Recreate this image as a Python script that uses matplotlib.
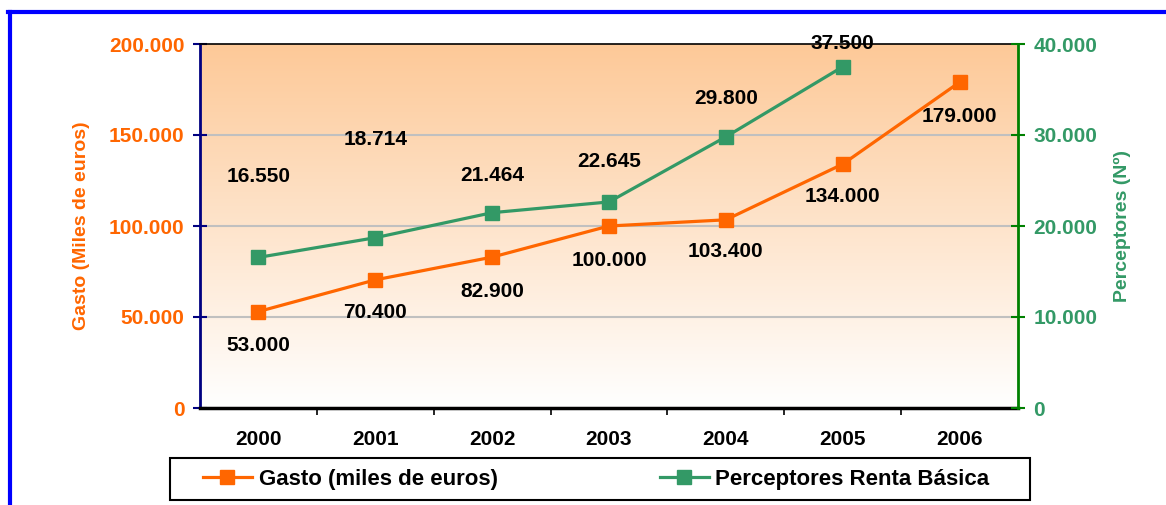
import numpy as np
import matplotlib
matplotlib.use('Agg')
import matplotlib.pyplot as plt
from matplotlib.lines import Line2D
from matplotlib.patches import Rectangle

# Data
years = ['2000', '2001', '2002', '2003', '2004', '2005', '2006']
gasto = [53000, 70400, 82900, 100000, 103400, 134000, 179000]
perceptores = [16550, 18714, 21464, 22645, 29800, 37500]
gasto_labels = ['53.000', '70.400', '82.900', '100.000', '103.400', '134.000', '179.000']
perc_labels = ['16.550', '18.714', '21.464', '22.645', '29.800', '37.500']
left_ticks = [0, 50000, 100000, 150000, 200000]
left_ticklabels = ['0', '50.000', '100.000', '150.000', '200.000']
right_ticks = [0, 10000, 20000, 30000, 40000]
right_ticklabels = ['0', '10.000', '20.000', '30.000', '40.000']

# label offsets in pixels (dy, positive = down)
gasto_dy = [34, 33, 34, 34, 32, 32, 34]
perc_dy = [-81, -98, -37, -40, -38, -23]

ORANGE = '#FF6600'
GREEN = '#339966'
NAVY = '#000080'
plt.rcParams['font.family'] = ['Liberation Sans', 'DejaVu Sans']
plt.rcParams['font.weight'] = 'bold'

W, H = 1166, 505
fig = plt.figure(figsize=(W / 100, H / 100), dpi=100)
ax = fig.add_axes([200 / W, 1 - 408 / H, 818 / W, 364 / H])
x = np.arange(len(years))

# gradient background (orange at top fading to white)
grad = np.linspace(0, 1, 256).reshape(-1, 1)
top = np.array([0xFD, 0xC9, 0x98]) / 255
bot = np.array([0xFF, 0xFF, 0xFF]) / 255
img = top[None, None, :] * (1 - grad[:, :, None]) + bot[None, None, :] * grad[:, :, None]
ax.imshow(img, extent=[-0.5, 6.5, 0, 200000], origin='upper', aspect='auto', zorder=0)

ax.set_xlim(-0.5, 6.5)
ax.set_ylim(0, 200000)
for v in left_ticks[1:-1]:
    ax.axhline(v, color='#C0C0C0', lw=1.5, zorder=1)

ax2 = ax.twinx()
ax2.set_ylim(0, 40000)

ax.plot(x, gasto, color=ORANGE, lw=2.3, marker='s', ms=9.5, zorder=3,
        label='Gasto (miles de euros)')
ax2.plot(x[:len(perceptores)], perceptores, color=GREEN, lw=2.3, marker='s', ms=9.5,
         zorder=3, label='Perceptores Renta Básica')

for i, (v, t) in enumerate(zip(gasto, gasto_labels)):
    ax.annotate(t, (x[i], v), xytext=(0, -gasto_dy[i] * 0.72), textcoords='offset points',
                ha='center', va='center', fontsize=15, fontweight='bold', color='black')
for i, (v, t) in enumerate(zip(perceptores, perc_labels)):
    ax2.annotate(t, (x[i], v), xytext=(0, -perc_dy[i] * 0.72), textcoords='offset points',
                 ha='center', va='center', fontsize=15, fontweight='bold', color='black')

# axes styling
ax.set_yticks(left_ticks)
ax.set_yticklabels(left_ticklabels, color=ORANGE, fontsize=15, fontweight='bold')
ax.tick_params(axis='y', direction='inout', length=10, width=1.5, color=NAVY, pad=6)
ax.set_xticks(x)
ax.set_xticklabels(years, fontsize=15, fontweight='bold')
ax.tick_params(axis='x', length=0, pad=16)
ax.set_xticks(np.arange(0.5, 6.5, 1), minor=True)
ax.tick_params(axis='x', which='minor', direction='out', length=5, width=1.2, color='black')
ax.spines['left'].set_color(NAVY)
ax.spines['left'].set_linewidth(2)
ax.spines['bottom'].set_linewidth(2.5)
ax.spines['top'].set_linewidth(1.2)
ax.spines['right'].set_visible(False)

ax2.set_yticks(right_ticks)
ax2.set_yticklabels(right_ticklabels, color=GREEN, fontsize=15, fontweight='bold')
ax2.tick_params(axis='y', direction='inout', length=10, width=1.5, color='green', pad=6)
ax2.spines['right'].set_color('green')
ax2.spines['right'].set_linewidth(2)
for s in ['left', 'top', 'bottom']:
    ax2.spines[s].set_visible(False)

ax.set_ylabel('Gasto (Miles de euros)', color=ORANGE, fontsize=14, fontweight='bold', labelpad=14)
ax2.set_ylabel('Perceptores (Nº)', color=GREEN, fontsize=14, fontweight='bold', labelpad=12)

# legend: frame drawn separately, entries placed inside
fig.add_artist(Rectangle((170 / W, 1 - 500 / H), 860 / W, 42 / H, transform=fig.transFigure,
                         facecolor='white', edgecolor='black', lw=1.5, zorder=5))
h1, l1 = ax.get_legend_handles_labels()
h2, l2 = ax2.get_legend_handles_labels()
leg = fig.legend(h1 + h2, l1 + l2, loc='center left', ncol=2,
                 bbox_to_anchor=(203 / W, 1 - 479 / H), frameon=False,
                 fontsize=16, handlelength=2.2, handletextpad=0.3, columnspacing=7.3,
                 borderpad=0, borderaxespad=0)
leg.set_zorder(6)

# blue border
fig.add_artist(Line2D([8 / W, 1], [1 - 12 / H, 1 - 12 / H], color='#0000FF', lw=3))
fig.add_artist(Line2D([10 / W, 10 / W], [0, 1 - 12 / H], color='#0000FF', lw=3))

plt.savefig('out.png', dpi=100)
